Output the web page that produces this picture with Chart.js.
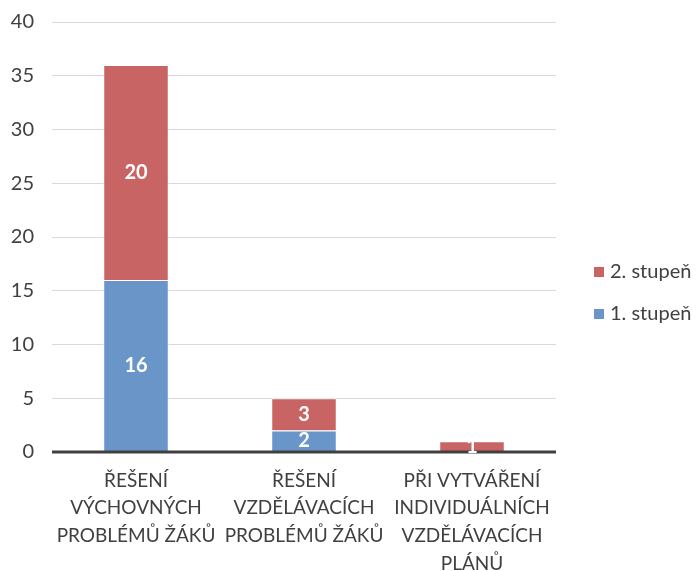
<!DOCTYPE html>
<html><head><meta charset="utf-8">
<script src="https://cdn.jsdelivr.net/npm/chart.js@4/dist/chart.umd.min.js"></script>
<style>html,body{margin:0;padding:0;background:#fff;overflow:hidden}#wrap{width:697px;height:571px;position:relative}</style>
</head><body><div id="wrap"><canvas id="c" width="697" height="571"></canvas></div>
<script>
const categories = [
  ["ŘEŠENÍ","VÝCHOVNÝCH","PROBLÉMŮ ŽÁKŮ"],
  ["ŘEŠENÍ","VZDĚLÁVACÍCH","PROBLÉMŮ ŽÁKŮ"],
  ["PŘI VYTVÁŘENÍ","INDIVIDUÁLNÍCH","VZDĚLÁVACÍCH","PLÁNŮ"]
];
const stupen1 = [16, 2, 0];
const stupen2 = [20, 3, 1];
const seriesNames = ["1. stupeň", "2. stupeň"];
const yTicks = [0, 5, 10, 15, 20, 25, 30, 35, 40];

const FONT = "Lato, 'Open Sans', sans-serif";
const BLUE = "#6995c9";
const RED = "#c96464";

const axisLine = {
  id: 'axisLine',
  afterDatasetsDraw(chart) {
    const {ctx, chartArea} = chart;
    const y = chart.scales.y.getPixelForValue(0);
    ctx.save();
    ctx.strokeStyle = '#404040';
    ctx.lineWidth = 3;
    ctx.beginPath();
    ctx.moveTo(chartArea.left, y);
    ctx.lineTo(chartArea.right, y);
    ctx.stroke();
    ctx.restore();
  }
};

const valueLabels = {
  id: 'valueLabels',
  afterDatasetsDraw(chart) {
    const ctx = chart.ctx;
    ctx.save();
    ctx.fillStyle = '#fff';
    ctx.font = "bold 20px " + FONT;
    ctx.textAlign = 'center';
    ctx.textBaseline = 'middle';
    chart.data.datasets.forEach((ds, i) => {
      const meta = chart.getDatasetMeta(i);
      meta.data.forEach((el, j) => {
        const v = ds.data[j];
        if (!v) return;
        ctx.fillText(String(v), el.x, (el.y + el.base) / 2);
      });
    });
    ctx.restore();
  }
};

const customLegend = {
  id: 'customLegend',
  afterDraw(chart) {
    const ctx = chart.ctx;
    ctx.save();
    ctx.font = "20px " + FONT;
    ctx.textBaseline = 'middle';
    ctx.textAlign = 'left';
    const items = chart.data.datasets.slice().reverse();
    const x0 = 594, y0 = 272, gap = 42;
    items.forEach((ds, k) => {
      const y = y0 + k * gap;
      ctx.fillStyle = ds.backgroundColor;
      ctx.fillRect(x0, y - 5, 10, 10);
      ctx.fillStyle = '#404040';
      ctx.fillText(ds.label, x0 + 16, y);
    });
    ctx.restore();
  }
};

new Chart(document.getElementById('c'), {
  type: 'bar',
  data: {
    labels: categories,
    datasets: [
      { label: seriesNames[0], data: stupen1, backgroundColor: BLUE, borderColor: 'rgba(255,255,255,0.7)', borderWidth: 1, categoryPercentage: 1, barPercentage: 0.39 },
      { label: seriesNames[1], data: stupen2, backgroundColor: RED, borderColor: 'rgba(255,255,255,0.7)', borderWidth: 1, categoryPercentage: 1, barPercentage: 0.39 }
    ]
  },
  options: {
    responsive: false,
    animation: false,
    layout: { padding: { top: 22, right: 141, left: 0, bottom: 0 } },
    plugins: { legend: { display: false }, tooltip: { enabled: false } },
    scales: {
      x: {
        stacked: true,
        grid: { display: false },
        border: { display: false },
        ticks: { color: '#404040', font: { family: FONT, size: 19, lineHeight: 1.45 }, padding: 7, maxRotation: 0, autoSkip: false },
        afterFit(s) { s.height = 119; s.paddingLeft = 0; s.paddingRight = 0; }
      },
      y: {
        stacked: true,
        min: 0, max: 40,
        afterBuildTicks(s) { s.ticks = yTicks.map(v => ({ value: v })); },
        grid: { color: '#d9d9d9', lineWidth: 1, drawTicks: false },
        border: { display: false },
        ticks: { color: '#404040', font: { family: FONT, size: 20 }, padding: 18 },
        afterFit(s) { s.width = 52; s.paddingTop = 0; s.paddingBottom = 0; }
      }
    }
  },
  plugins: [axisLine, valueLabels, customLegend]
});
</script></body></html>
